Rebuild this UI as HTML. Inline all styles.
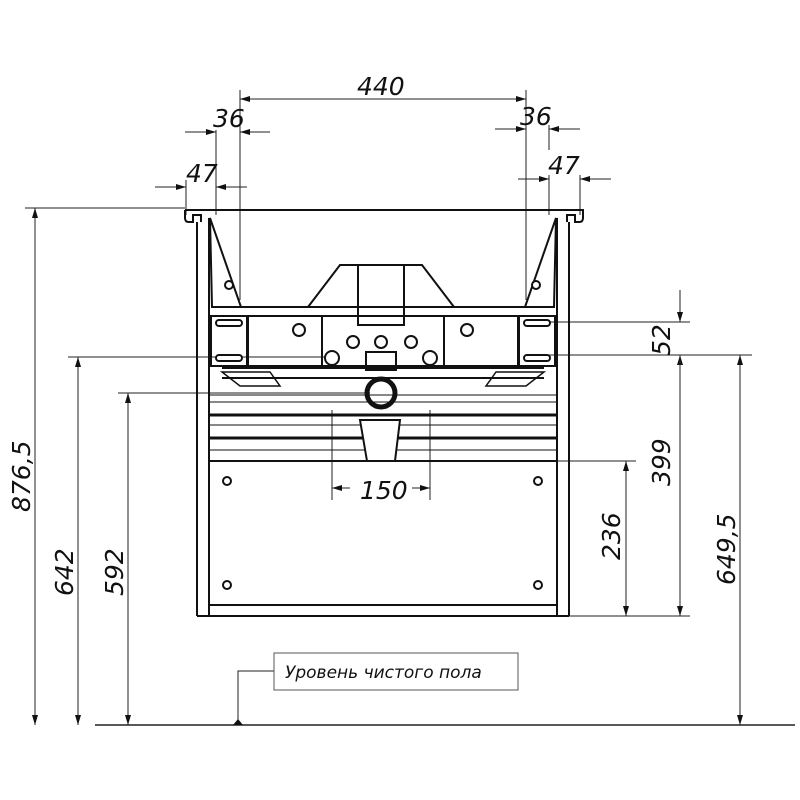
<!DOCTYPE html>
<html><head><meta charset="utf-8"><style>
html,body{margin:0;padding:0;background:#fff}
svg{display:block}
text{font-family:"DejaVu Sans","Liberation Sans",sans-serif;font-style:italic;fill:#111}
</style></head><body>
<svg width="800" height="800" viewBox="0 0 800 800" xmlns="http://www.w3.org/2000/svg">
<defs>
<marker id="a" viewBox="0 0 10 6" refX="10" refY="3" markerWidth="10" markerHeight="6" orient="auto-start-reverse" markerUnits="userSpaceOnUse"><path d="M0,0 L10,3 L0,6 z" fill="#111"/></marker>
</defs>
<g stroke="#222" stroke-width="1" fill="none">
<!-- top extension lines -->
<line x1="186" y1="180" x2="186" y2="215"/>
<line x1="216" y1="130" x2="216" y2="215"/>
<line x1="240" y1="90" x2="240" y2="300"/>
<line x1="526" y1="90" x2="526" y2="300"/>
<line x1="549" y1="125" x2="549" y2="150"/>
<line x1="549" y1="175" x2="549" y2="215"/>
<line x1="580" y1="175" x2="580" y2="215"/>
<!-- 440 -->
<line x1="240" y1="99" x2="526" y2="99" marker-start="url(#a)" marker-end="url(#a)"/>
<!-- 36 left -->
<line x1="185" y1="132" x2="216" y2="132" marker-end="url(#a)"/>
<line x1="270" y1="132" x2="240" y2="132" marker-end="url(#a)"/>
<!-- 47 left -->
<line x1="155" y1="187" x2="186" y2="187" marker-end="url(#a)"/>
<line x1="247" y1="187" x2="216" y2="187" marker-end="url(#a)"/>
<!-- 36 right -->
<line x1="495" y1="129" x2="526" y2="129" marker-end="url(#a)"/>
<line x1="580" y1="129" x2="549" y2="129" marker-end="url(#a)"/>
<!-- 47 right -->
<line x1="518" y1="179" x2="549" y2="179" marker-end="url(#a)"/>
<line x1="611" y1="179" x2="580" y2="179" marker-end="url(#a)"/>

<!-- left vertical dims -->
<line x1="25" y1="208" x2="185" y2="208"/>
<line x1="35" y1="208" x2="35" y2="725" marker-start="url(#a)" marker-end="url(#a)"/>
<line x1="68" y1="357" x2="330" y2="357"/>
<line x1="78" y1="357" x2="78" y2="725" marker-start="url(#a)" marker-end="url(#a)"/>
<line x1="118" y1="393" x2="370" y2="393"/>
<line x1="128" y1="393" x2="128" y2="725" marker-start="url(#a)" marker-end="url(#a)"/>

<!-- right vertical dims -->
<line x1="540" y1="322" x2="690" y2="322"/>
<line x1="540" y1="355" x2="752" y2="355"/>
<line x1="680" y1="290" x2="680" y2="322" marker-end="url(#a)"/>
<line x1="680" y1="387" x2="680" y2="355" marker-end="url(#a)"/>
<line x1="680" y1="355" x2="680" y2="616" marker-end="url(#a)"/>
<line x1="740" y1="355" x2="740" y2="725" marker-start="url(#a)" marker-end="url(#a)"/>
<line x1="557" y1="461" x2="636" y2="461"/>
<line x1="626" y1="461" x2="626" y2="616" marker-start="url(#a)" marker-end="url(#a)"/>
<line x1="569" y1="616" x2="690" y2="616"/>

<!-- 150 -->
<line x1="332" y1="410" x2="332" y2="500"/>
<line x1="430" y1="410" x2="430" y2="500"/>
<line x1="350" y1="488" x2="332" y2="488" marker-end="url(#a)"/>
<line x1="412" y1="488" x2="430" y2="488" marker-end="url(#a)"/>

<!-- floor -->
<line x1="95" y1="725" x2="795" y2="725" stroke-width="1.5"/>
<polyline points="238,722 238,671 274,671"/>
<rect x="274" y="653" width="244" height="37" stroke="#555"/>
</g>
<path d="M233,725 L238,719 L243,725 z" fill="#111"/>

<!-- cabinet -->
<g stroke="#111" stroke-width="2" fill="none">
<path d="M185,210 L583,210 L583,218 Q583,222 579,222 L575,222 L575,215 L567,215 L567,222 M185,210 L185,218 Q185,222 189,222 L193,222 L193,215 L201,215 L201,222"/>
<line x1="197" y1="222" x2="197" y2="616"/>
<line x1="209" y1="218" x2="209" y2="616"/>
<line x1="569" y1="222" x2="569" y2="616"/>
<line x1="557" y1="218" x2="557" y2="616"/>
<line x1="197" y1="616" x2="569" y2="616"/>
<line x1="209" y1="605" x2="557" y2="605"/>
<line x1="209" y1="461" x2="557" y2="461"/>
<!-- triangles -->
<path d="M210,218 L241,307 L212,307 Z"/>
<path d="M556,218 L525,307 L554,307 Z"/>
<line x1="212" y1="307" x2="554" y2="307"/>
<line x1="212" y1="316" x2="554" y2="316"/>
<!-- central funnel -->
<path d="M308,307 L340,265 L422,265 L454,307"/>
<rect x="358" y="265" width="46" height="60"/>
<!-- brackets panels -->
<rect x="248" y="316" width="74" height="50"/>
<rect x="444" y="316" width="74" height="50"/>
<rect x="322" y="316" width="122" height="50"/>
<line x1="222" y1="368" x2="544" y2="368"/>
<line x1="222" y1="378" x2="544" y2="378"/>
<!-- rails -->
<line x1="209" y1="395" x2="557" y2="395" stroke-width="1"/>
<line x1="209" y1="402" x2="557" y2="402" stroke-width="1"/>
<line x1="209" y1="415" x2="557" y2="415" stroke-width="3"/>
<line x1="209" y1="425" x2="557" y2="425" stroke-width="1"/>
<line x1="209" y1="438" x2="557" y2="438" stroke-width="3"/>
<line x1="209" y1="450" x2="557" y2="450" stroke-width="1"/>
<!-- siphon -->
<circle cx="381" cy="393" r="14" stroke-width="5"/>
<rect x="366" y="352" width="30" height="18"/>
<path d="M360,420 L400,420 L395,461 L367,461 Z" fill="#fff"/>
<!-- hinge blocks -->
<rect x="211" y="316" width="36" height="50"/>
<rect x="519" y="316" width="36" height="50"/>
<path d="M222,372 L270,372 L280,386 L240,386 Z" stroke-width="1.5"/>
<path d="M544,372 L496,372 L486,386 L526,386 Z" stroke-width="1.5"/>
</g>
<g stroke="#111" stroke-width="2" fill="#fff">
<circle cx="229" cy="285" r="4"/><circle cx="536" cy="285" r="4"/>
<circle cx="299" cy="330" r="6"/><circle cx="467" cy="330" r="6"/>
<circle cx="353" cy="342" r="6"/><circle cx="381" cy="342" r="6"/><circle cx="411" cy="342" r="6"/>
<circle cx="332" cy="358" r="7"/><circle cx="430" cy="358" r="7"/>
<circle cx="227" cy="481" r="4"/><circle cx="538" cy="481" r="4"/>
<circle cx="227" cy="585" r="4"/><circle cx="538" cy="585" r="4"/>
<rect x="216" y="320" width="26" height="6" rx="3"/><rect x="216" y="355" width="26" height="6" rx="3"/>
<rect x="524" y="320" width="26" height="6" rx="3"/><rect x="524" y="355" width="26" height="6" rx="3"/>
</g>

<!-- texts -->
<g font-size="25">
<text x="357" y="95">440</text>
<text x="213" y="127">36</text>
<text x="520" y="125">36</text>
<text x="186" y="182">47</text>
<text x="548" y="174">47</text>
<text x="360" y="499">150</text>
<text transform="translate(30,512) rotate(-90)">876,5</text>
<text transform="translate(73,596) rotate(-90)">642</text>
<text transform="translate(123,596) rotate(-90)">592</text>
<text transform="translate(670,486) rotate(-90)">399</text>
<text transform="translate(620,560) rotate(-90)">236</text>
<text transform="translate(735,585) rotate(-90)">649,5</text>
<text transform="translate(670,356) rotate(-90)">52</text>
</g>
<text x="285" y="678" font-size="17">Уровень чистого пола</text>
</svg>
</body></html>
